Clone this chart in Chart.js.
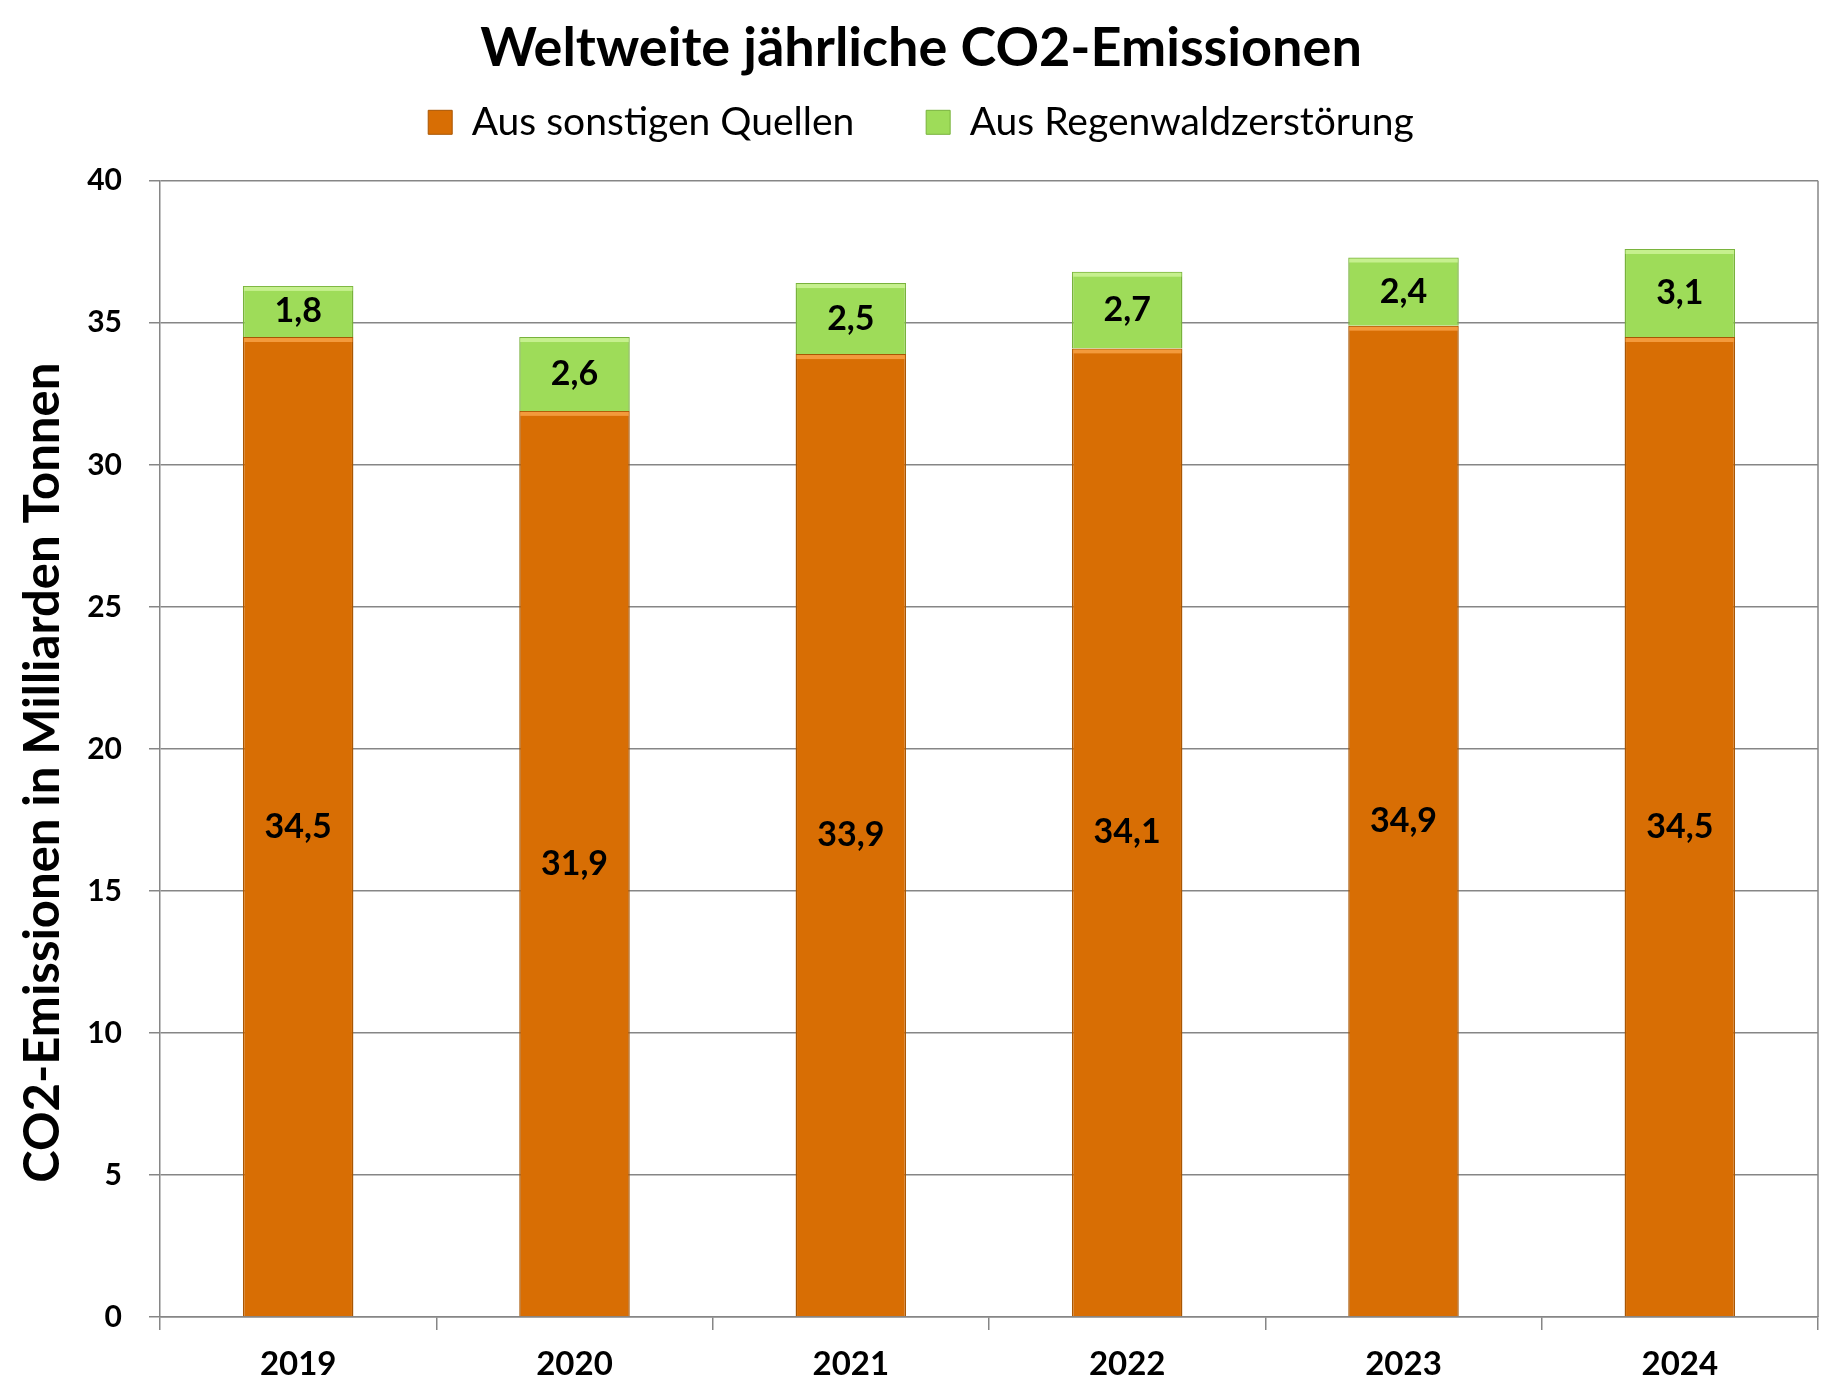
<!DOCTYPE html>
<html>
<head>
<meta charset="utf-8">
<script src="https://cdn.jsdelivr.net/npm/chart.js@4"></script>
<style>
  body { margin: 0; background: #fff; }
  #box { width: 1833px; height: 1396px; }
</style>
</head>
<body>
<div id="box"><canvas id="co2"></canvas></div>
<script>
const years = ["2019", "2020", "2021", "2022", "2023", "2024"];
const sonstige = [34.5, 31.9, 33.9, 34.1, 34.9, 34.5];
const regenwald = [1.8, 2.6, 2.5, 2.7, 2.4, 3.1];
const yTicks = [0, 5, 10, 15, 20, 25, 30, 35, 40];

const FONT = "Lato";
const gridGrey = "#868686";

// Werte in die Balken schreiben + kleine Kante oben wie im Excel-Original
const barLabels = {
  id: "barLabels",
  afterDatasetsDraw(chart) {
    const ctx = chart.ctx;
    chart.data.datasets.forEach((ds, i) => {
      const meta = chart.getDatasetMeta(i);
      meta.data.forEach((bar, j) => {
        const w = bar.width;
        ctx.save();
        ctx.fillStyle = ds.topShade;
        ctx.fillRect(bar.x - w / 2 + 1, bar.y + 1, w - 2, 4);
        ctx.restore();

        const v = ds.data[j];
        ctx.save();
        ctx.font = "bold 34px " + FONT;
        ctx.fillStyle = "#000";
        ctx.textAlign = "center";
        ctx.textBaseline = "middle";
        ctx.fillText(v.toFixed(1).replace(".", ","), bar.x, (bar.y + bar.base) / 2);
        ctx.restore();
      });
    });
  }
};

const rightBorder = {
  id: "rightBorder",
  afterDraw(chart) {
    const a = chart.chartArea;
    const ctx = chart.ctx;
    ctx.save();
    ctx.strokeStyle = gridGrey;
    ctx.lineWidth = 1.5;
    ctx.beginPath();
    ctx.moveTo(a.right, a.top);
    ctx.lineTo(a.right, a.bottom);
    ctx.stroke();
    ctx.restore();
  }
};

new Chart(document.getElementById("co2"), {
  type: "bar",
  data: {
    labels: years,
    datasets: [
      {
        label: "Aus sonstigen Quellen",
        data: sonstige,
        backgroundColor: "#D86E04",
        borderColor: "#A95603",
        borderWidth: 1.5,
        topShade: "#F39A3C",
        barPercentage: 0.4,
        categoryPercentage: 1,
      },
      {
        label: "Aus Regenwaldzerstörung",
        data: regenwald,
        backgroundColor: "#9EDC59",
        borderColor: "#78B23C",
        borderWidth: 1.5,
        topShade: "#C6F08E",
        barPercentage: 0.4,
        categoryPercentage: 1,
      },
    ],
  },
  options: {
    responsive: true,
    maintainAspectRatio: false,
    animation: false,
    devicePixelRatio: 1,
    layout: { padding: { left: 24, right: 15, top: 0, bottom: 0 } },
    plugins: {
      title: {
        display: true,
        text: "Weltweite jährliche CO2-Emissionen",
        color: "#000",
        font: { family: FONT, size: 54, weight: "bold" },
        padding: { top: 16, bottom: 0 },
      },
      subtitle: {
        // nur Abstand zwischen Legende und Diagramm
        display: true,
        text: "",
        weight: 500,
        font: { size: 10 },
        padding: { top: 9, bottom: 8 },
      },
      legend: {
        position: "top",
        labels: {
          color: "#000",
          font: { family: FONT, size: 39 },
          boxWidth: 24,
          boxHeight: 24,
          padding: 22,
          generateLabels(chart) {
            const items = Chart.defaults.plugins.legend.labels.generateLabels(chart);
            items[0].text = items[0].text + "     ";
            items.forEach((it) => (it.lineWidth = 1));
            return items;
          },
        },
      },
      tooltip: { enabled: false },
    },
    scales: {
      x: {
        stacked: true,
        grid: {
          offset: true,
          drawOnChartArea: false,
          drawTicks: true,
          tickLength: 13,
          color: gridGrey,
          lineWidth: 1.5,
        },
        border: { color: gridGrey, width: 1.5 },
        ticks: {
          color: "#000",
          font: { family: FONT, size: 33, weight: "bold" },
          padding: 15,
        },
        afterFit(s) { s.height = 79; },
      },
      y: {
        stacked: true,
        min: 0,
        max: 40,
        afterBuildTicks(s) { s.ticks = yTicks.map((v) => ({ value: v })); },
        grid: { color: gridGrey, lineWidth: 1.5, tickLength: 11 },
        border: { color: gridGrey, width: 1.5 },
        ticks: {
          color: "#000",
          font: { family: FONT, size: 30, weight: "bold" },
          padding: 27,
        },
        title: {
          display: true,
          text: "CO2-Emissionen in Milliarden Tonnen    ",
          color: "#000",
          font: { family: FONT, size: 49, weight: "bold" },
          padding: { top: -10, bottom: 0 },
        },
        afterFit(s) { s.width = 136; },
      },
    },
  },
  plugins: [barLabels, rightBorder],
});
</script>
</body>
</html>
